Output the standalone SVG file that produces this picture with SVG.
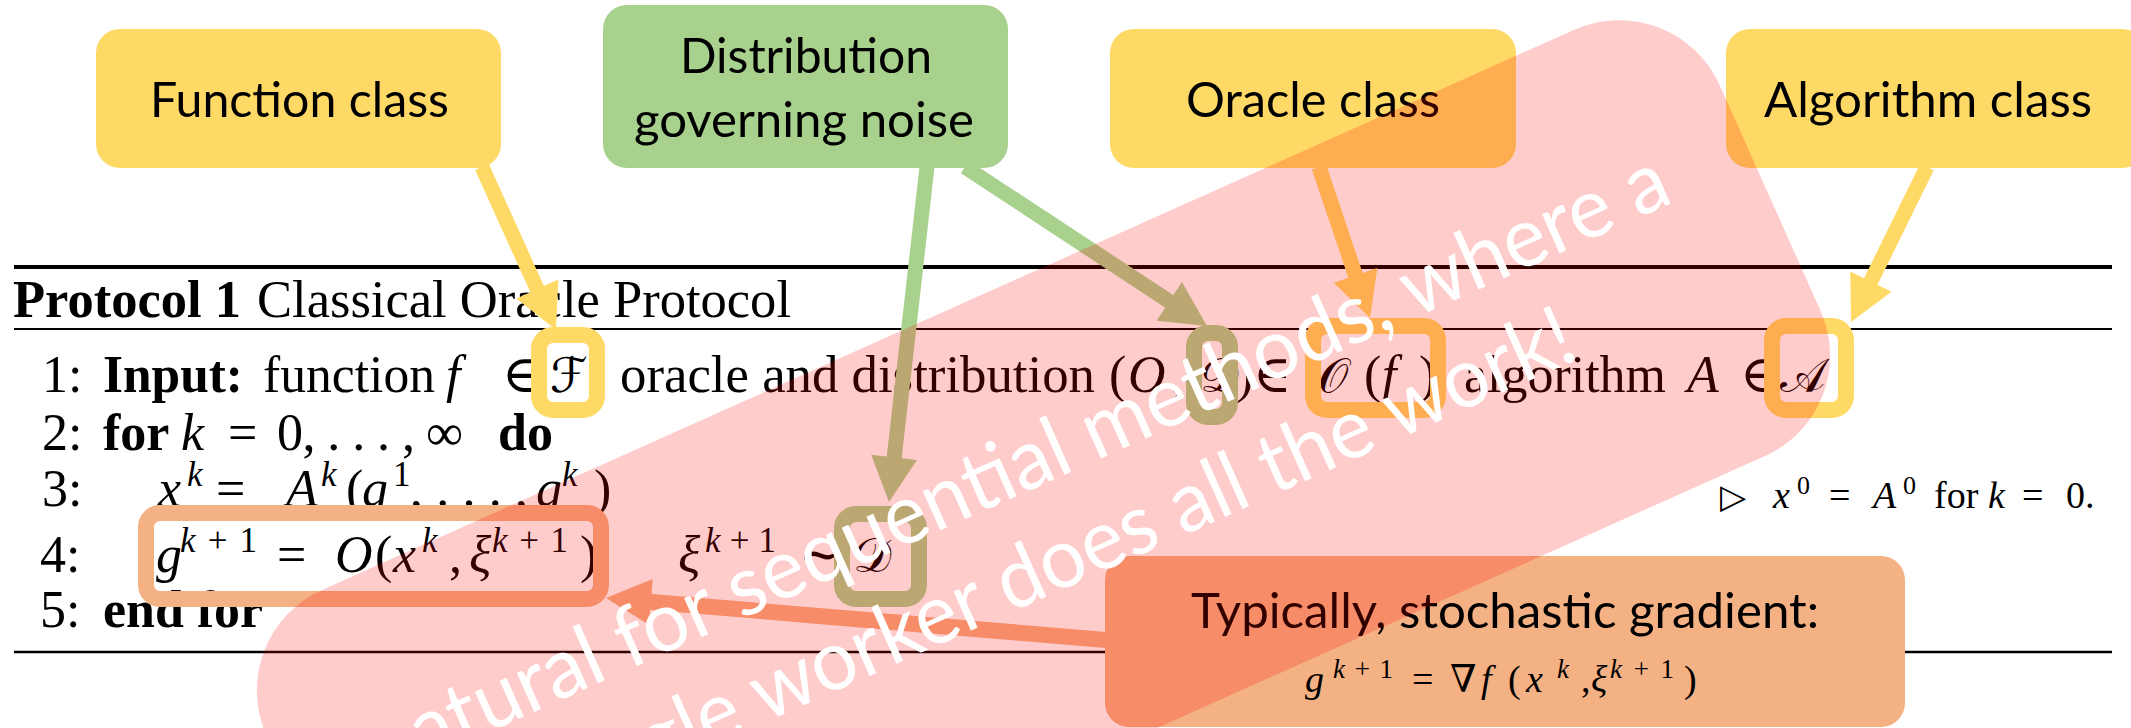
<svg xmlns="http://www.w3.org/2000/svg" width="2131" height="728" viewBox="0 0 2131 728">
<style>
.call{font-family:Lato,'Open Sans',sans-serif;font-size:48px;fill:#000;text-anchor:middle}
.alg{font-family:'Liberation Serif','DejaVu Serif',serif;font-size:52px;fill:#000}
.it{font-style:italic}
.b{font-weight:bold}
.sm{font-size:35px}
.cal{font-family:'DejaVu Serif','DejaVu Sans',serif;font-size:48px}
.hl{fill:none;stroke-width:16}
.ln{fill:none;stroke-width:15}
.note{font-family:Lato,'Open Sans',sans-serif;font-size:84px;fill:#fff;text-anchor:middle}
.yl{stroke:#FFD966}.ylf{fill:#FFD966}
.gr{stroke:#A9D18E}.grf{fill:#A9D18E}
.or{stroke:#F4B183}.orf{fill:#F4B183}
</style>
<rect width="2131" height="728" fill="#fff"/>

<g id="algorithm">
  <line x1="14" y1="267" x2="2112" y2="267" stroke="#000" stroke-width="4"/>
  <line x1="14" y1="329" x2="2112" y2="329" stroke="#000" stroke-width="2.2"/>
  <line x1="14" y1="652" x2="2112" y2="652" stroke="#000" stroke-width="2.5"/>
  <text class="alg" x="13" y="317" textLength="228" lengthAdjust="spacingAndGlyphs" font-weight="bold">Protocol 1</text>
  <text class="alg" x="257" y="317" textLength="534" lengthAdjust="spacingAndGlyphs">Classical Oracle Protocol</text>

  <text class="alg" x="42" y="392">1:</text>
  <text class="alg b" x="103" y="392" textLength="140" lengthAdjust="spacingAndGlyphs">Input:</text>
  <text class="alg" x="263" y="392" textLength="172" lengthAdjust="spacingAndGlyphs">function</text>
  <text class="alg">
    <tspan x="446" y="392" class="it">f</tspan>
    <tspan x="502" y="392">∈</tspan>
    <tspan x="550" y="392" class="cal">ℱ</tspan>
  </text>
  <text class="alg" x="620" y="392" textLength="475" lengthAdjust="spacingAndGlyphs">oracle and distribution</text>
  <text class="alg">
    <tspan x="1109" y="392">(</tspan><tspan x="1128" y="392" class="it">O</tspan><tspan x="1170" y="392">,</tspan>
    <tspan x="1200" y="392" class="cal">𝒟</tspan><tspan x="1236" y="392">)</tspan>
    <tspan x="1253" y="392">∈</tspan>
    <tspan x="1318" y="392" class="cal">𝒪</tspan><tspan x="1364" y="392">(</tspan><tspan x="1382" y="392" class="it">f</tspan><tspan x="1419" y="392">)</tspan>
  </text>
  <text class="alg" x="1464" y="392" textLength="202" lengthAdjust="spacingAndGlyphs">algorithm</text>
  <text class="alg">
    <tspan x="1687" y="392" class="it">A</tspan>
    <tspan x="1740" y="392">∈</tspan>
    <tspan x="1780" y="392" class="cal">𝒜</tspan>
  </text>

  <text class="alg">
    <tspan x="42" y="450">2:</tspan>
    <tspan x="103" y="450" class="b">for</tspan>
    <tspan x="181" y="450" class="it">k</tspan>
    <tspan x="228" y="450">=</tspan>
  </text>
  <text class="alg" x="277" y="450" textLength="138" lengthAdjust="spacing">0, . . . ,</text>
  <text class="alg">
    <tspan x="426" y="450">∞</tspan>
    <tspan x="498" y="450" class="b">do</tspan>
  </text>

  <text class="alg">
    <tspan x="42" y="506">3:</tspan>
    <tspan x="158" y="506" class="it">x</tspan><tspan x="187" y="486" class="it sm">k</tspan>
    <tspan x="216" y="506">=</tspan>
    <tspan x="286" y="506" class="it">A</tspan><tspan x="321" y="486" class="it sm">k</tspan>
    <tspan x="346" y="506">(</tspan><tspan x="362" y="506" class="it">g</tspan><tspan x="393" y="486" class="sm">1</tspan>
  </text>
  <text class="alg" x="410" y="506" textLength="118" lengthAdjust="spacing">, . . . ,</text>
  <text class="alg">
    <tspan x="536" y="506" class="it">g</tspan><tspan x="562" y="486" class="it sm">k</tspan><tspan x="594" y="506">)</tspan>
  </text>

  <text class="alg" style="font-size:38px">
    <tspan x="1720" y="508" style="font-family:'DejaVu Sans',sans-serif;font-size:34px">▷</tspan>
    <tspan x="1773" y="508" class="it">x</tspan><tspan x="1797" y="494" style="font-size:26px">0</tspan>
    <tspan x="1829" y="508">=</tspan>
    <tspan x="1873" y="508" class="it">A</tspan><tspan x="1903" y="494" style="font-size:26px">0</tspan>
    <tspan x="1934" y="508">for</tspan>
    <tspan x="1988" y="508" class="it">k</tspan>
    <tspan x="2022" y="508">=</tspan>
    <tspan x="2066" y="508">0.</tspan>
  </text>

  <text class="alg">
    <tspan x="40" y="572">4:</tspan>
    <tspan x="156" y="572" class="it">g</tspan>
    <tspan x="277" y="572">=</tspan>
    <tspan x="335" y="572" class="it">O</tspan><tspan x="375" y="572">(</tspan><tspan x="393" y="572" class="it">x</tspan><tspan x="422" y="552" class="it sm">k</tspan>
    <tspan x="449" y="572">,</tspan>
    <tspan x="469" y="572" class="it">ξ</tspan><tspan x="580" y="572">)</tspan>
    <tspan x="678" y="572" class="it">ξ</tspan>
    <tspan x="799" y="572">∼</tspan>
    <tspan x="853" y="572" class="cal">𝒟</tspan>
  </text>
  <text class="alg sm" x="180" y="552" textLength="77" lengthAdjust="spacing"><tspan class="it">k</tspan>+1</text>
  <text class="alg sm" x="492" y="552" textLength="76" lengthAdjust="spacing"><tspan class="it">k</tspan>+1</text>
  <text class="alg sm" x="705" y="552" textLength="71" lengthAdjust="spacing"><tspan class="it">k</tspan>+1</text>

  <text class="alg" x="40" y="627">5:</text>
  <text class="alg b" x="103" y="627" textLength="160" lengthAdjust="spacingAndGlyphs">end for</text>
</g>

<g id="hl-F"><rect class="hl yl" x="539" y="335" width="58" height="75" rx="14"/></g>
<g id="hl-D1"><rect class="hl gr" x="1194" y="333" width="36" height="84" rx="14"/></g>
<g id="hl-Of"><rect class="hl yl" x="1313" y="326" width="125" height="84" rx="14"/></g>
<g id="hl-A"><rect class="hl yl" x="1772" y="326" width="74" height="84" rx="14"/></g>
<g id="hl-g"><rect class="hl or" x="146" y="513" width="455" height="86" rx="14"/></g>
<g id="hl-D2"><rect class="hl gr" x="842" y="514" width="77" height="85" rx="14"/></g>

<g id="node-function">
  <rect class="ylf" x="96" y="29" width="405" height="139" rx="24"/>
  <text class="call" x="299.5" y="117" textLength="299" lengthAdjust="spacingAndGlyphs">Function class</text>
</g>
<g id="node-distribution">
  <rect class="grf" x="603" y="5" width="405" height="163" rx="24"/>
  <text class="call" x="806" y="73" textLength="252" lengthAdjust="spacingAndGlyphs">Distribution</text>
  <text class="call" x="804" y="137" textLength="340" lengthAdjust="spacingAndGlyphs">governing noise</text>
</g>
<g id="node-oracle">
  <rect class="ylf" x="1110" y="29" width="406" height="139" rx="24"/>
  <text class="call" x="1313" y="117" textLength="254" lengthAdjust="spacingAndGlyphs">Oracle class</text>
</g>
<g id="node-algorithm">
  <rect class="ylf" x="1726" y="29" width="420" height="139" rx="24"/>
  <text class="call" x="1928" y="117" textLength="328" lengthAdjust="spacingAndGlyphs">Algorithm class</text>
</g>
<g id="node-typically">
  <rect class="orf" x="1105" y="556" width="800" height="171" rx="24"/>
  <text class="call" x="1505" y="628" textLength="628" lengthAdjust="spacingAndGlyphs">Typically, stochastic gradient:</text>
  <text class="alg" style="font-size:38px">
    <tspan x="1305" y="692" class="it">g</tspan>
    <tspan x="1412" y="692">=</tspan>
    <tspan x="1450" y="692">∇</tspan><tspan x="1481" y="692" class="it">f</tspan><tspan x="1508" y="692">(</tspan><tspan x="1526" y="692" class="it">x</tspan><tspan x="1557" y="678" class="it" style="font-size:27px">k</tspan>
    <tspan x="1581" y="692">,</tspan><tspan x="1591" y="692" class="it">ξ</tspan><tspan x="1684" y="692">)</tspan>
  </text>
  <text class="alg" x="1333" y="678" style="font-size:27px" textLength="60" lengthAdjust="spacing"><tspan class="it">k</tspan>+1</text>
  <text class="alg" x="1610" y="678" style="font-size:27px" textLength="64" lengthAdjust="spacing"><tspan class="it">k</tspan>+1</text>
</g>

<g id="connectors">
  <line class="ln yl" x1="482" y1="167" x2="538" y2="291"/>
  <polygon class="ylf" points="556,330 516.5,298.5 558.3,279.5"/>
  <line class="ln gr" x1="927" y1="167" x2="894" y2="459"/>
  <polygon class="grf" points="889,502 871.2,454.7 917,459.9"/>
  <line class="ln gr" x1="965" y1="167" x2="1171" y2="302.5"/>
  <polygon class="grf" points="1207,326 1156.7,320.7 1181.9,282.1"/>
  <line class="ln yl" x1="1319" y1="167" x2="1356" y2="277"/>
  <polygon class="ylf" points="1370,318 1333.7,282.8 1377.3,268"/>
  <line class="ln yl" x1="1927" y1="167" x2="1870" y2="283"/>
  <polygon class="ylf" points="1851,322 1850.3,271.4 1891.5,291.8"/>
  <line class="or" x1="1106" y1="640" x2="649" y2="601.7" stroke-width="16"/>
  <polygon class="orf" points="606,598 652.7,578.9 648.9,624.7"/>
</g>

<g id="overlay">
  <rect x="-57" y="670" width="1592" height="467" rx="110" transform="rotate(-24.1)" fill="#FF0000" fill-opacity="0.2"/>
  <g transform="rotate(-24.1)">
    <text class="note" x="739" y="868" textLength="1416" lengthAdjust="spacingAndGlyphs">natural for sequential methods, where a</text>
    <text class="note" x="739" y="972" textLength="1116" lengthAdjust="spacingAndGlyphs">single worker does all the work!</text>
  </g>
</g>
</svg>
